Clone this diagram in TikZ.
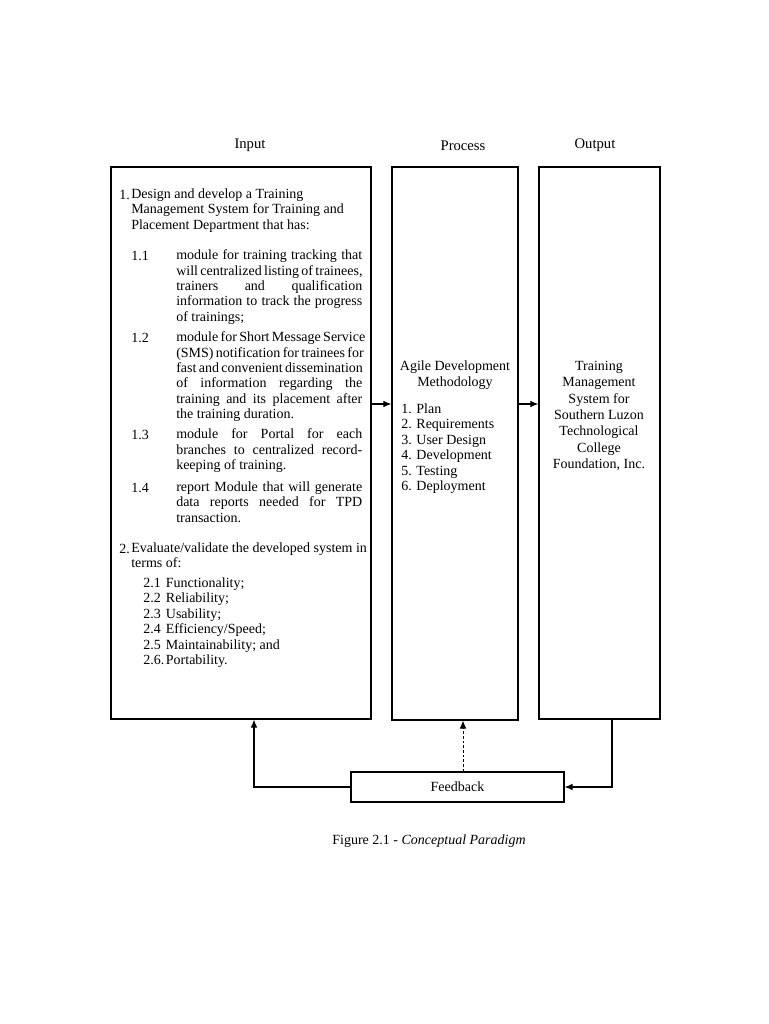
\documentclass[tikz,border=0pt]{standalone}
\usepackage{fontspec}
\setmainfont{Liberation Serif}
\usetikzlibrary{arrows.meta}

\newcommand{\fsz}{\fontsize{10.5}{11.55}\selectfont}
\newcommand{\jline}[1]{\makebox[139.5pt][s]{#1}}

\begin{document}
\begin{tikzpicture}[x=0.75pt,y=-0.75pt,
  box/.style={draw,line width=0.9pt,inner sep=0pt},
  txt/.style={font=\fsz,inner sep=0pt,anchor=north west,align=left,execute at begin node=\strut},
  arr/.style={-{Latex[length=6pt,width=5pt]},line width=0.8pt}]
\useasboundingbox (0,0) rectangle (768,1024);
% headings
\node[font=\fontsize{11}{12}\selectfont] (hin) at (250,145) {Input};
\node[font=\fontsize{11}{12}\selectfont] (hpr) at (463,146) {Process};
\node[font=\fontsize{11}{12}\selectfont] (hout) at (595,145) {Output};
% boxes
\node[box,minimum width=195pt,minimum height=414pt] (inp) at (241,443) {};
\node[box,minimum width=94.5pt,minimum height=414.75pt] (proc) at (455,443.5) {};
\node[box,minimum width=90.75pt,minimum height=414pt] (outp) at (599.5,443) {};
\node[box,minimum width=159.75pt,minimum height=22.5pt,font=\fsz] (fb) at (457.5,787) {Feedback};
% input text
\node[txt] (n1) at (119,188.5) {1.};
\node[txt] (t1) at (131,188.5) {Design and develop a Training\\
  Management System for Training and\\ Placement Department that has:};
\node[txt] (n11) at (131,249.5) {1.1};
\node[txt] (t11) at (176,249.5) {\jline{module for training tracking that}\\
  \jline{will centralized listing of trainees,}\\ \jline{trainers and qualification}\\
  \jline{information to track the progress}\\ of trainings;};
\node[txt] (n12) at (131,331.5) {1.2};
\node[txt] (t12) at (176,331.5) {\jline{module for Short Message Service}\\
  \jline{(SMS) notification for trainees for}\\ \jline{fast and convenient dissemination}\\
  \jline{of information regarding the}\\ \jline{training and its placement after}\\
  the training duration.};
\node[txt] (n13) at (131,428.5) {1.3};
\node[txt] (t13) at (176,428.5) {\jline{module for Portal for each}\\
  \jline{branches to centralized record-}\\ keeping of training.};
\node[txt] (n14) at (131,481.5) {1.4};
\node[txt] (t14) at (176,481.5) {\jline{report Module that will generate}\\
  \jline{data reports needed for TPD}\\ transaction.};
\node[txt] (n2) at (119,542.5) {2.};
\node[txt] (t2) at (131,542.5) {Evaluate/validate the developed system in\\ terms of:};
\node[txt] (t2s) at (143,577.5) {\makebox[17pt][l]{2.1}Functionality;\\
  \makebox[17pt][l]{2.2}Reliability;\\ \makebox[17pt][l]{2.3}Usability;\\
  \makebox[17pt][l]{2.4}Efficiency/Speed;\\ \makebox[17pt][l]{2.5}Maintainability; and\\
  \makebox[17pt][l]{2.6.}Portability.};
% process text
\node[txt,anchor=north,align=center,font=\fontsize{10.5}{12}\selectfont] (ptit) at (455,361) {Agile Development\\ Methodology};
\node[txt] (plist) at (401,403.5) {1. Plan\\ 2. Requirements\\ 3. User Design\\
  4. Development\\ 5. Testing\\ 6. Deployment};
% output text
\node[txt,anchor=north,align=center,font=\fontsize{10.5}{12.25}\selectfont] (otxt) at (599,361) {Training\\
  Management\\ System for\\ Southern Luzon\\ Technological\\ College\\ Foundation, Inc.};
% connectors
\coordinate (mid) at (0,404);
\coordinate (fbl) at (254,0);
\coordinate (dsh) at (463,0);
\coordinate (orx) at (612,0);
\draw[arr] (inp.east |- mid) -- (proc.west |- mid);
\draw[arr] (proc.east |- mid) -- (outp.west |- mid);
\draw[arr] (fb.west) -| (inp.south -| fbl);
\draw[arr,line width=0.6pt,dash pattern=on 2pt off 1.5pt] (fb.north -| dsh) -- (proc.south -| dsh);
\draw[arr] (outp.south -| orx) |- (fb.east);
% caption
\node[font=\fontsize{10.5}{12}\selectfont] (cap) at (429,841) {Figure 2.1 - \textit{Conceptual Paradigm}};
\end{tikzpicture}
\end{document}
